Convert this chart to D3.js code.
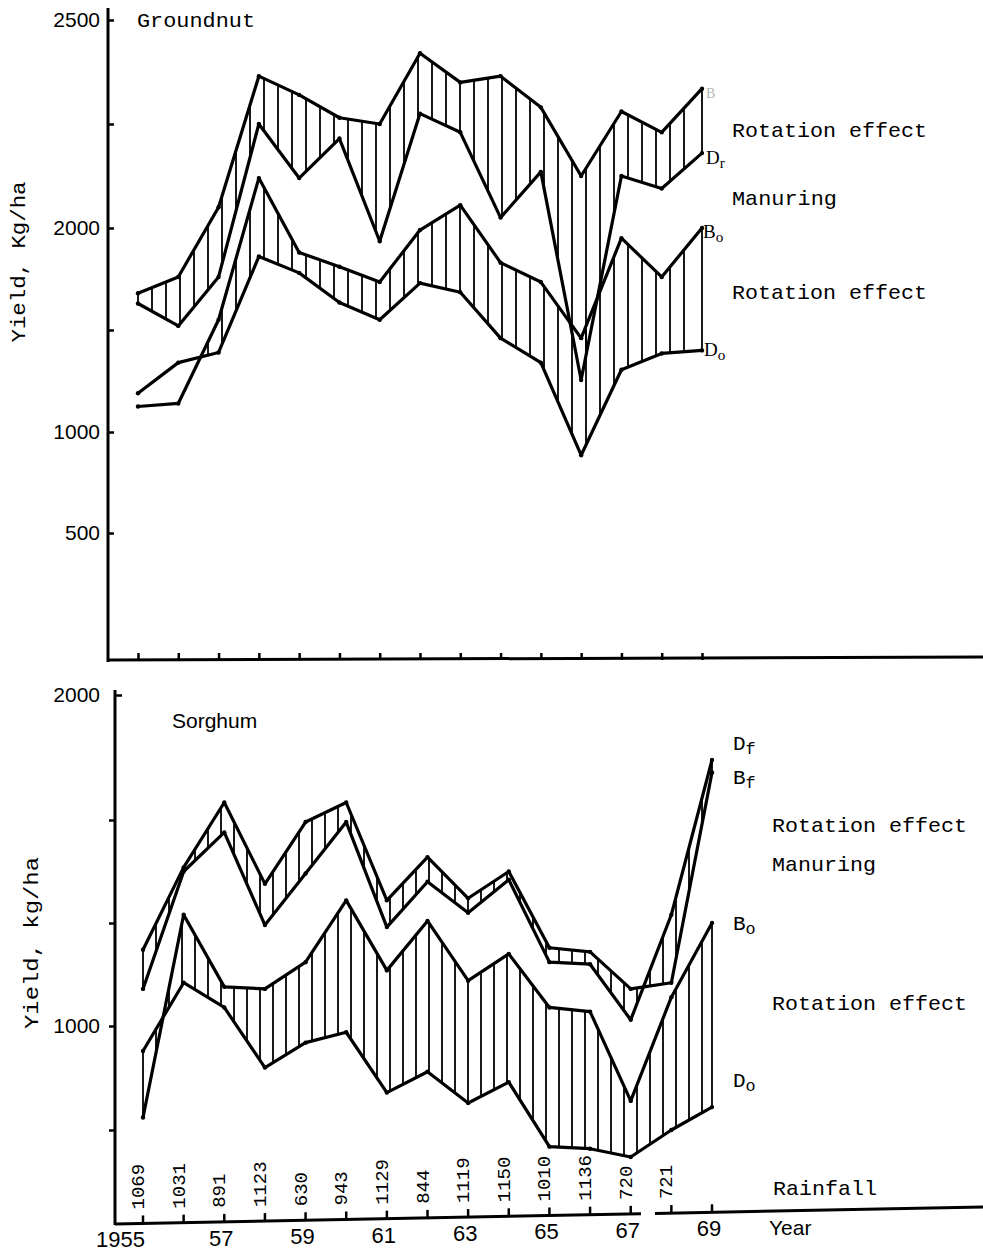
<!DOCTYPE html>
<html>
<head>
<meta charset="utf-8">
<script src="https://cdn.jsdelivr.net/npm/d3@7"></script>
<style>
  body { margin: 0; background: #fff; }
  text { fill: #000; }
</style>
</head>
<body>
<div id="chart"></div>
<script>
// ---- data ----
const years = [1955, 1956, 1957, 1958, 1959, 1960, 1961, 1962, 1963, 1964, 1965, 1966, 1967, 1968, 1969];

// Groundnut yields, kg/ha
const gnutBf = [1680, 1760, 2050, 2365, 2320, 2265, 2250, 2420, 2350, 2365, 2290, 2125, 2280, 2230, 2335];
const gnutDf = [1630, 1520, 1760, 2250, 2120, 2215, 1935, 2275, 2230, 2025, 2135, 1255, 2125, 2095, 2180];
const gnutBo = [1125, 1140, 1550, 2120, 1880, 1810, 1735, 1990, 2055, 1830, 1735, 1460, 1950, 1760, 2000];
const gnutDo = [1190, 1340, 1390, 1860, 1780, 1635, 1550, 1730, 1685, 1460, 1340, 885, 1305, 1385, 1400];

// Sorghum yields, kg/ha
const sorgBf = [1185, 1385, 1570, 1345, 1495, 1570, 1305, 1410, 1310, 1375, 1190, 1180, 1090, 1105, 1690];
const sorgDf = [1090, 1375, 1470, 1245, 1370, 1495, 1240, 1350, 1275, 1355, 1155, 1150, 1015, 1270, 1740];
const sorgBo = [780, 1270, 1095, 1090, 1155, 1305, 1135, 1255, 1110, 1175, 1045, 1035, 820, 1070, 1250];
const sorgDo = [940, 1105, 1045, 900, 960, 985, 840, 890, 815, 865, 710, 705, 685, 750, 805];

// rainfall (mm) printed along the bottom axis, 1955-1968
const rainYears = [1955, 1956, 1957, 1958, 1959, 1960, 1961, 1962, 1963, 1964, 1965, 1966, 1967, 1968];
const rainfall = ["1069", "1031", "891", "1123", "630", "943", "1129", "844", "1119", "1150", "1010", "1136", "720", "721"];

// tick values / labels
const gnutTicks = [500, 1000, 1500, 2000, 2250, 2500];
const gnutTickLabels = [500, 1000, 2000, 2500];
const sorgTicks = [750, 1000, 1250, 1500, 2000];
const sorgTickLabels = [1000, 2000];
const yearLabelYears = [1955, 1957, 1959, 1961, 1963, 1965, 1967, 1969];
const yearLabels = ["1955", "57", "59", "61", "63", "65", "67", "69"];

const W = 983, H = 1251;
const MONO = "'Liberation Mono', 'DejaVu Sans Mono', monospace";
const SANS = "'Liberation Sans', Arial, sans-serif";
const SERIF = "'Liberation Serif', 'DejaVu Serif', serif";
const NARROW = "'Liberation Sans Narrow', 'Liberation Sans', sans-serif";

const svg = d3.select("#chart").append("svg")
  .attr("width", W).attr("height", H)
  .style("background", "#fff");

// scales (the printed y axes are not uniform, so piecewise)
const xT = d3.scaleLinear().domain([1955, 1969]).range([138, 702]);
const yT = d3.scaleLinear().domain([500, 1000, 2000, 2500]).range([533, 432, 228, 20]);
const xB = d3.scaleLinear().domain([1955, 1969]).range([143, 712]);
const yB = d3.scaleLinear().domain([750, 1000, 1500, 2000]).range([1130, 1026, 820, 695]);
// bottom axis of the scan runs slightly uphill
const baseB = d3.scaleLinear().domain([115, 983]).range([1224, 1207]);

function drawSeries(g, x, y, vals) {
  const line = d3.line()
    .x((d, i) => x(years[i]))
    .y(d => y(d));
  g.append("path")
    .datum(vals)
    .attr("d", line)
    .attr("fill", "none")
    .attr("stroke", "#000")
    .attr("stroke-width", 3.2)
    .attr("stroke-linejoin", "round");
  g.selectAll(null).data(vals).enter().append("circle")
    .attr("cx", (d, i) => x(years[i]))
    .attr("cy", d => y(d))
    .attr("r", 2.2)
    .attr("fill", "#000");
}

// vertical hatching between two series
function hatch(g, x, y, topVals, botVals, step, bothWays) {
  const P = years.map((yr, i) => [x(yr), y(topVals[i]), y(botVals[i])]);
  const x0 = P[0][0], x1 = P[P.length - 1][0];
  const pos = d3.range(x0, x1 - step * 0.4, step);
  pos.push(x1);
  const bis = d3.bisector(d => d[0]).right;
  pos.forEach(px => {
    let k = bis(P, px) - 1;
    k = Math.max(0, Math.min(P.length - 2, k));
    const t = (px - P[k][0]) / (P[k + 1][0] - P[k][0]);
    const a = P[k][1] + t * (P[k + 1][1] - P[k][1]);
    const b = P[k][2] + t * (P[k + 1][2] - P[k][2]);
    if (!bothWays && a >= b) return;
    g.append("line")
      .attr("x1", px).attr("x2", px)
      .attr("y1", a).attr("y2", b)
      .attr("stroke", "#000")
      .attr("stroke-width", 1.8);
  });
}

function label(g, x, y, txt, opts) {
  opts = opts || {};
  const t = g.append("text")
    .attr("x", x).attr("y", y)
    .attr("font-family", opts.family || MONO)
    .attr("font-size", opts.size || 21)
    .text(txt);
  if (opts.len) t.attr("textLength", opts.len).attr("lengthAdjust", "spacingAndGlyphs");
  if (opts.anchor) t.attr("text-anchor", opts.anchor);
  return t;
}

function subLabel(g, x, y, main, sub, family, size) {
  const t = g.append("text")
    .attr("x", x).attr("y", y)
    .attr("font-family", family)
    .attr("font-size", size);
  t.append("tspan").text(main);
  t.append("tspan").attr("dy", 4).attr("font-size", size * 0.8).text(sub);
  return t;
}

// ================= Groundnut =================
const gT = svg.append("g");

hatch(gT, xT, yT, gnutBf, gnutDf, 14, true);
hatch(gT, xT, yT, gnutBo, gnutDo, 14, false);
[gnutBf, gnutDf, gnutBo, gnutDo].forEach(s => drawSeries(gT, xT, yT, s));

// y axis
gT.append("line").attr("x1", 108).attr("x2", 108).attr("y1", 8).attr("y2", 662)
  .attr("stroke", "#000").attr("stroke-width", 3);
const yAxT = gT.append("g").attr("transform", "translate(108,0)")
  .call(d3.axisLeft(yT).tickValues(gnutTicks).tickSizeInner(-6).tickSizeOuter(0).tickPadding(8)
    .tickFormat(d => gnutTickLabels.includes(d) ? d : ""));
yAxT.select(".domain").remove();
yAxT.selectAll(".tick line").attr("stroke-width", 2.5);
yAxT.selectAll(".tick text").attr("font-family", SANS).attr("font-size", 21).attr("fill", "#000");

// x axis
gT.append("line").attr("x1", 107).attr("x2", 983).attr("y1", 660).attr("y2", 657)
  .attr("stroke", "#000").attr("stroke-width", 3);
const xAxT = gT.append("g").attr("transform", "translate(0,660)")
  .call(d3.axisBottom(xT).tickValues(years).tickSizeInner(-7).tickSizeOuter(0).tickFormat(""));
xAxT.select(".domain").remove();
xAxT.selectAll(".tick line").attr("stroke-width", 2.5);

label(gT, 137, 27, "Groundnut", { len: 118 });
label(gT, 0, 0, "Yield, Kg/ha", { len: 161, anchor: "middle" })
  .attr("transform", "translate(25,262) rotate(-90)");

label(gT, 706, 98, "B", { family: SERIF, size: 14 }).style("fill", "#b5b5b5");
subLabel(gT, 706, 164, "D", "r", SERIF, 19);
subLabel(gT, 703, 238, "B", "o", SERIF, 19);
subLabel(gT, 704, 356, "D", "o", SERIF, 19);

label(gT, 732, 137, "Rotation effect", { len: 195 });
label(gT, 732, 205, "Manuring", { len: 105 });
label(gT, 732, 299, "Rotation effect", { len: 195 });

// ================= Sorghum =================
const gB = svg.append("g");

hatch(gB, xB, yB, sorgBf, sorgDf, 13, true);
hatch(gB, xB, yB, sorgBo, sorgDo, 13, true);
[sorgBf, sorgDf, sorgBo, sorgDo].forEach(s => drawSeries(gB, xB, yB, s));

// y axis
gB.append("line").attr("x1", 115).attr("x2", 115).attr("y1", 690).attr("y2", 1225)
  .attr("stroke", "#000").attr("stroke-width", 3);
const yAxB = gB.append("g").attr("transform", "translate(115,0)")
  .call(d3.axisLeft(yB).tickValues(sorgTicks).tickSizeInner(6).tickSizeOuter(0).tickPadding(8)
    .tickFormat(d => sorgTickLabels.includes(d) ? d : ""));
yAxB.select(".domain").remove();
yAxB.selectAll(".tick line").attr("stroke-width", 2.5)
  .attr("x2", d => d === 2000 ? 7 : -6);
yAxB.selectAll(".tick text").attr("font-family", SANS).attr("font-size", 21).attr("fill", "#000")
  .attr("x", -15);

// slanted x axis with a small gap, as in the scan
[[115, 641], [655, 983]].forEach(([a, b]) => {
  gB.append("line")
    .attr("x1", a).attr("x2", b)
    .attr("y1", baseB(a)).attr("y2", baseB(b))
    .attr("stroke", "#000").attr("stroke-width", 3);
});
gB.selectAll(".ytick").data(years).enter().append("line")
  .attr("x1", d => xB(d)).attr("x2", d => xB(d))
  .attr("y1", d => baseB(xB(d))).attr("y2", d => baseB(xB(d)) - 8)
  .attr("stroke", "#000").attr("stroke-width", 2.5);

gB.selectAll(".yearlab").data(yearLabelYears).enter().append("text")
  .attr("x", (d, i) => i === 0 ? xB(d) + 2 : xB(d) - 3)
  .attr("y", d => baseB(xB(d)) + 24)
  .attr("text-anchor", (d, i) => i === 0 ? "end" : "middle")
  .attr("font-family", NARROW)
  .attr("font-size", 22)
  .text((d, i) => yearLabels[i]);
label(gB, 769, baseB(790) + 24, "Year", { family: NARROW, size: 21 });

gB.selectAll(".rain").data(rainYears).enter().append("text")
  .attr("transform", d => {
    const px = xB(d) + 1;
    return "translate(" + px + "," + (baseB(px) - 14) + ") rotate(-90)";
  })
  .attr("font-family", MONO)
  .attr("font-size", 19)
  .text((d, i) => rainfall[i]);
label(gB, 773, 1195, "Rainfall", { len: 104 });

label(gB, 172, 728, "Sorghum", { family: SANS, size: 21 });
label(gB, 0, 0, "Yield, kg/ha", { len: 172, anchor: "middle" })
  .attr("transform", "translate(38,943) rotate(-90)");

subLabel(gB, 733, 750, "D", "f", MONO, 21);
subLabel(gB, 733, 784, "B", "f", MONO, 21);
subLabel(gB, 733, 930, "B", "o", MONO, 21);
subLabel(gB, 733, 1087, "D", "o", MONO, 21);

label(gB, 772, 832, "Rotation effect", { len: 195 });
label(gB, 772, 871, "Manuring", { len: 104 });
label(gB, 772, 1010, "Rotation effect", { len: 195 });
</script>
</body>
</html>
